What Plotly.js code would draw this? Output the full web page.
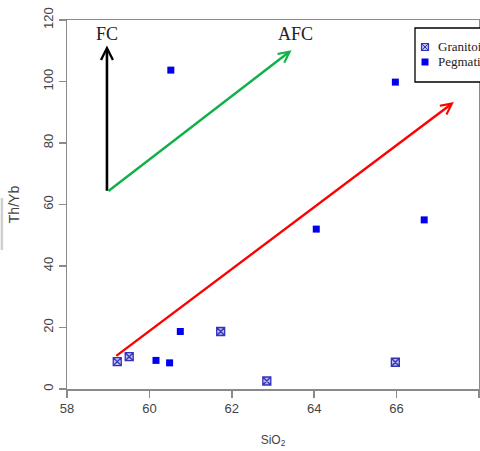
<!DOCTYPE html>
<html>
<head>
<meta charset="utf-8">
<script src="https://cdn.plot.ly/plotly-3.0.1.min.js"></script>
<style>html,body{margin:0;padding:0;background:#fff;}#chart{width:480px;height:451px;}</style>
</head>
<body>
<div id="chart"></div>
<script>
// Granitoid samples
var granitoidSiO2 = [59.22, 59.51, 61.73, 62.85, 65.97];
var granitoidThYb = [8.9, 10.5, 18.7, 2.6, 8.7];
// Pegmatite samples
var pegmatiteSiO2 = [60.52, 65.97, 64.05, 66.67, 60.75, 60.16, 60.49];
var pegmatiteThYb = [103.7, 99.8, 52.0, 55.0, 18.7, 9.3, 8.5];
// Trend arrows: [tailX, tailY, headX, headY]
var arrowFC  = [58.97, 64.0, 58.97, 111.7];
var arrowAFC = [58.97, 64.0, 63.45, 110.2];
var arrowRed = [59.16, 10.4, 67.39, 93.3];
// Trend labels
var labelText = ['FC', 'AFC'];
var labelX = [58.97, 63.55];
var labelY = [115.6, 115.6];
var xTicks = [58, 60, 62, 64, 66, 68];
var yTicks = [0, 20, 40, 60, 80, 100, 120];
var seriesNames = ['Granitoid', 'Pegmatite'];

var granColor = '#b8bcef', granLine = '#3434b8', pegColor = '#0000ee';

var traces = [
  {x: granitoidSiO2, y: granitoidThYb, type: 'scatter', mode: 'markers', name: seriesNames[0],
   marker: {symbol: 'square-x', size: 8, color: granColor, line: {color: granLine, width: 1.3}}},
  {x: pegmatiteSiO2, y: pegmatiteThYb, type: 'scatter', mode: 'markers', name: seriesNames[1],
   marker: {symbol: 'square', size: 7, color: pegColor, line: {width: 0}}}
];

function arrow(a, color, w) {
  return {x: a[2], y: a[3], ax: a[0], ay: a[1], xref: 'x', yref: 'y', axref: 'x', ayref: 'y',
    text: '', showarrow: true, arrowhead: 5, arrowsize: 0.9, arrowwidth: w, arrowcolor: color};
}
var annotations = [arrow(arrowFC, '#000000', 2.6), arrow(arrowAFC, '#12b04a', 2.4), arrow(arrowRed, '#ff0000', 2.4)];
for (var i = 0; i < labelText.length; i++) {
  annotations.push({x: labelX[i], y: labelY[i], xref: 'x', yref: 'y', text: labelText[i], showarrow: false,
    font: {family: 'Liberation Serif, Times New Roman, serif', size: 18, color: '#222'}});
}

// Manual legend (box cut by the right edge, as in the reference)
var W = 480, H = 451, mL = 67, mR = 1, mT = 20, mB = 62;
var pw = W - mL - mR, ph = H - mT - mB;
function px(x) { return (x - mL) / pw; }
function py(y) { return (H - mB - y) / ph; }
var legLeft = 415, legTop = 28, legBottom = 82, legRows = [47, 62], symX = 425, s = 3.5;
var shapes = [
  {type: 'rect', xref: 'paper', yref: 'paper', x0: px(legLeft), x1: px(W + 20), y0: py(legBottom), y1: py(legTop),
   line: {color: '#000', width: 1.3}, fillcolor: '#fff', layer: 'above'},
  {type: 'line', xref: 'paper', yref: 'paper', x0: -0.158, x1: -0.158, y0: py(250), y1: py(198),
   line: {color: '#cfcfcf', width: 2.5}}
];
// legend symbols
shapes.push({type: 'rect', xref: 'paper', yref: 'paper', x0: px(symX - s), x1: px(symX + s), y0: py(legRows[0] + s), y1: py(legRows[0] - s),
  line: {color: granLine, width: 1.2}, fillcolor: granColor, layer: 'above'});
shapes.push({type: 'line', xref: 'paper', yref: 'paper', x0: px(symX - s), x1: px(symX + s), y0: py(legRows[0] + s), y1: py(legRows[0] - s),
  line: {color: granLine, width: 1}, layer: 'above'});
shapes.push({type: 'line', xref: 'paper', yref: 'paper', x0: px(symX - s), x1: px(symX + s), y0: py(legRows[0] - s), y1: py(legRows[0] + s),
  line: {color: granLine, width: 1}, layer: 'above'});
shapes.push({type: 'rect', xref: 'paper', yref: 'paper', x0: px(symX - s), x1: px(symX + s), y0: py(legRows[1] + s), y1: py(legRows[1] - s),
  line: {width: 0}, fillcolor: pegColor, layer: 'above'});
for (var j = 0; j < seriesNames.length; j++) {
  annotations.push({xref: 'paper', yref: 'paper', x: px(436), y: py(legRows[j]), xanchor: 'left', yanchor: 'middle',
    text: seriesNames[j], showarrow: false,
    font: {family: 'Liberation Serif, Times New Roman, serif', size: 13, color: '#222'}});
}

var layout = {
  width: W, height: H,
  margin: {l: mL, r: mR, t: mT, b: mB, autoexpand: false},
  paper_bgcolor: '#fff', plot_bgcolor: '#fff',
  showlegend: false,
  xaxis: {range: [58, 68], tickvals: xTicks, ticktext: xTicks.map(String), showgrid: false, zeroline: false,
    showline: true, linecolor: '#8a8a8a', linewidth: 1.5, mirror: true, ticks: 'outside', ticklen: 7, tickcolor: '#8a8a8a', tickwidth: 1.5,
    tickfont: {family: 'Liberation Sans, Arial, sans-serif', size: 13, color: '#444'},
    title: {text: 'SiO<sub>2</sub>', font: {family: 'Liberation Sans, Arial, sans-serif', size: 12, color: '#444'}, standoff: 20}},
  yaxis: {range: [0, 120], tickvals: yTicks, ticktext: yTicks.map(String), showgrid: false, zeroline: false,
    showline: true, linecolor: '#8a8a8a', linewidth: 1.5, mirror: true, ticks: 'outside', ticklen: 7, tickcolor: '#8a8a8a', tickwidth: 1.5,
    tickangle: -90,
    tickfont: {family: 'Liberation Sans, Arial, sans-serif', size: 13, color: '#444'},
    title: {text: 'Th/Yb', font: {family: 'Liberation Sans, Arial, sans-serif', size: 14, color: '#444'}, standoff: 18}},
  annotations: annotations,
  shapes: shapes
};
Plotly.newPlot('chart', traces, layout, {displayModeBar: false, staticPlot: true});
</script>
</body>
</html>
